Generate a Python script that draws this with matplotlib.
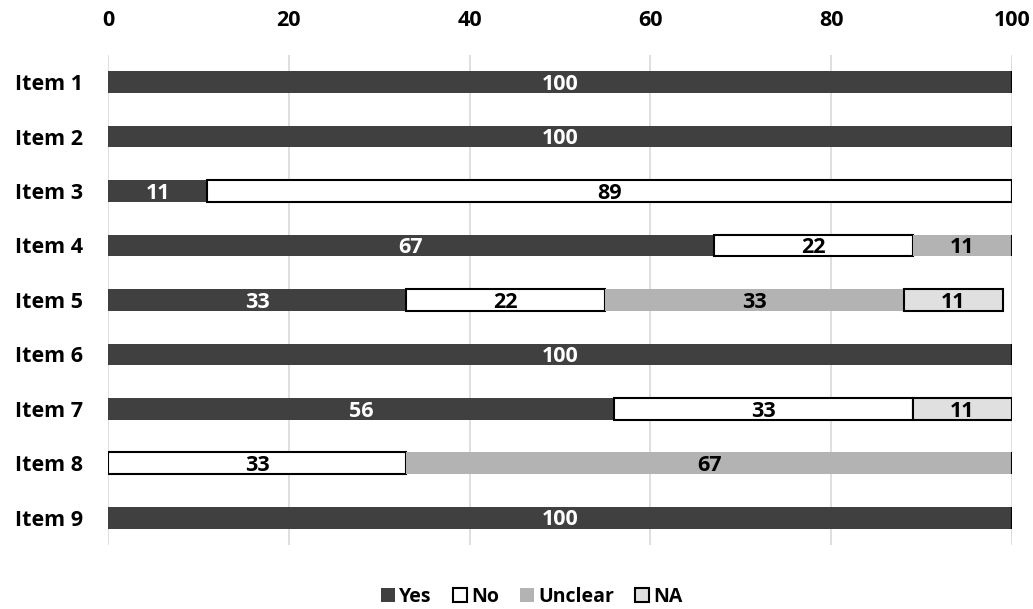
import numpy as np
import matplotlib.pyplot as plt

plt.rcParams['font.family'] = ['Open Sans', 'DejaVu Sans']
plt.rcParams['font.weight'] = 'bold'

# datos del grafico
items = ['Item 1', 'Item 2', 'Item 3', 'Item 4', 'Item 5', 'Item 6', 'Item 7', 'Item 8', 'Item 9']
yes = [100, 100, 11, 67, 33, 100, 56, 0, 100]
no = [0, 0, 89, 22, 22, 0, 33, 33, 0]
unclear = [0, 0, 0, 11, 33, 0, 0, 67, 0]
na = [0, 0, 0, 0, 11, 0, 11, 0, 0]
ticks = [0, 20, 40, 60, 80, 100]

series = [('Yes', yes, '#404040', 'none', 'white'),
          ('No', no, 'white', 'black', 'black'),
          ('Unclear', unclear, '#b3b3b3', 'none', 'black'),
          ('NA', na, '#e0e0e0', 'black', 'black')]

fig = plt.figure(figsize=(10.33, 6.09), dpi=100)
ax = fig.add_axes([0.1045, 0.105, 0.8752, 0.805])

y = np.arange(len(items))
left = np.zeros(len(items))
for nombre, valores, color, borde, color_txt in series:
    valores = np.array(valores, dtype=float)
    bars = ax.barh(y, valores, left=left, height=0.4, color=color,
                   edgecolor=borde, linewidth=1.5, label=nombre, zorder=3)
    for b, v in zip(bars, valores):
        if v > 0:
            ax.text(b.get_x() + b.get_width() / 2, b.get_y() + b.get_height() / 2 + 0.04,
                    f'{int(v)}', ha='center', va='center', color=color_txt,
                    fontsize=15.5, fontweight='bold', zorder=4)
    left += valores

ax.set_xlim(0, 100)
ax.set_ylim(8.5, -0.5)
ax.set_yticks(y)
ax.set_yticklabels(items, fontsize=15.5, fontweight='bold')
ax.set_xticks(ticks)
ax.set_xticklabels([str(t) for t in ticks], fontsize=15.5, fontweight='bold')
ax.xaxis.tick_top()
ax.tick_params(axis='y', length=0, pad=18)
ax.tick_params(axis='x', length=0, pad=17)
ax.grid(axis='x', color='#d9d9d9', linewidth=1.2, zorder=0)
for s in ax.spines.values():
    s.set_visible(False)

leg = fig.legend(loc='center', bbox_to_anchor=(0.515, 0.02), ncol=4, frameon=False,
                 fontsize=14, handlelength=0.72, handleheight=0.72, handletextpad=0.2,
                 columnspacing=1.1)
for t in leg.get_texts():
    t.set_fontweight('bold')

fig.savefig('out.png', dpi=100)
